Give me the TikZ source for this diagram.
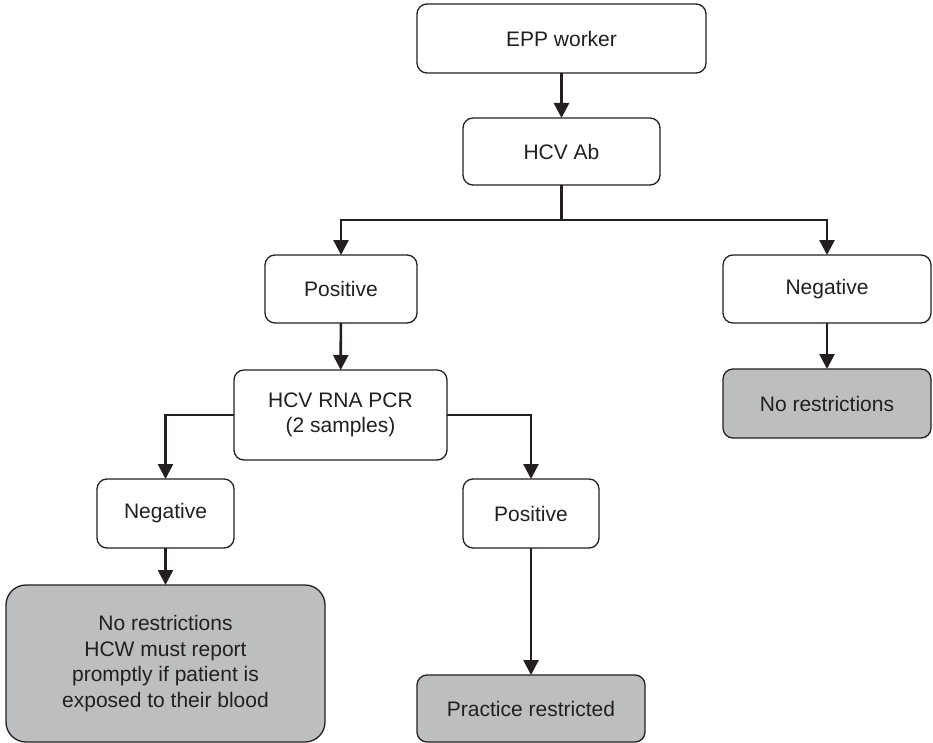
\documentclass[tikz,border=0pt]{standalone}
\usepackage{fontspec}
\setmainfont{Liberation Sans}
\usetikzlibrary{arrows.meta}
\definecolor{ink}{HTML}{231F20}
\definecolor{shade}{HTML}{BDBEC0}
\begin{document}
\begin{tikzpicture}[x=1pt,y=-1pt,
  box/.style={draw=ink, line width=1.3pt, rounded corners=10pt, fill=white,
    inner sep=0pt, outer sep=0pt, align=center, text=ink,
    font=\fontsize{21}{25.5}\selectfont},
  endbox/.style={box, fill=shade},
  flow/.style={draw=ink, line width=2.6pt,
    -{Triangle[length=15pt,width=15pt]}},
  link/.style={draw=ink, line width=2.6pt}]
\useasboundingbox (0,0) rectangle (933,743);

\node[box, minimum width=289pt, minimum height=69pt] (epp) at (561.5,38.5) {EPP worker};
\node[box, minimum width=197pt, minimum height=67pt] (ab) at (561.5,151.5) {HCV Ab};
\node[box, minimum width=152pt, minimum height=68pt] (pos1) at (341,289) {Positive};
\node[box, minimum width=208pt, minimum height=68pt] (neg1) at (827,289) {Negative};
\node[endbox, minimum width=208pt, minimum height=69pt] (nr1) at (827,403.5) {No restrictions};
\node[box, minimum width=213pt, minimum height=90pt] (rna) at (340.5,415) {HCV RNA PCR\\(2 samples)};
\node[box, minimum width=137pt, minimum height=69pt] (neg2) at (165.5,513.5) {Negative};
\node[box, minimum width=136pt, minimum height=69pt] (pos2) at (531,513.5) {Positive};
\node[endbox, rounded corners=20pt, minimum width=319pt, minimum height=157pt] (nr2) at (165.5,663.5)
  {No restrictions\\HCW must report\\promptly if patient is\\exposed to their blood};
\node[endbox, minimum width=228pt, minimum height=67pt] (prac) at (531,708.5) {Practice restricted};

\coordinate (split) at (561.5,220);

\draw[flow] (epp) -- (ab);
\draw[link] (ab.south) -- (split);
\draw[flow] (split) -| (pos1.north);
\draw[flow] (split) -| (neg1.north);
\draw[flow] (neg1) -- (nr1);
\draw[flow] (pos1) -- (rna);
\draw[flow] (rna.west) -| (neg2.north);
\draw[flow] (rna.east) -| (pos2.north);
\draw[flow] (neg2) -- (nr2);
\draw[flow] (pos2) -- (prac);
\end{tikzpicture}
\end{document}
